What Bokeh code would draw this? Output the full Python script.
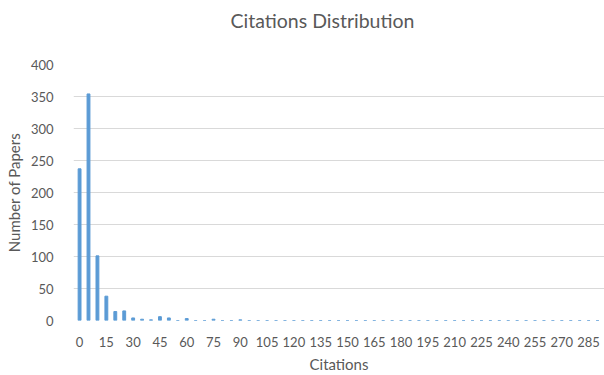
from bokeh.plotting import figure
from bokeh.models import FixedTicker, Range1d, Title
from bokeh.embed import file_html
from bokeh.resources import INLINE

# Citation counts (bins of 5) and number of papers in each bin
citations = list(range(0, 295, 5))
papers = [237, 354, 101, 38, 14, 15, 4, 2, 1, 6, 4, 0, 3, 0, 0, 2, 0, 0, 1] + [0] * 40
x_ticks = list(range(0, 290, 15))
y_ticks = list(range(0, 450, 50))

FONT = "Lato"
TEXT = "#595959"
GRID = "#d9d9d9"
BAR = "#5B9BD5"

p = figure(width=604, height=375, output_backend="svg", toolbar_location=None,
           x_range=Range1d(-3.4, 293.9), y_range=Range1d(0, 400),
           min_border_left=73, min_border_right=0, min_border_top=64, min_border_bottom=54)
p.outline_line_color = None
p.background_fill_color = "white"
p.border_fill_color = "white"

p.vbar(x=citations, top=papers, width=1.6, color=BAR)

# chart title (outermost), with a blank spacer between it and the plot area
p.title.text = "Citations Distribution"
p.title.align = "left"
p.title.offset = 157
p.title.text_font = FONT
p.title.text_font_size = "19.5px"
p.title.text_font_style = "normal"
p.title.text_color = TEXT
p.title.standoff = 4
spacer = Title(text=" ", text_font=FONT, text_font_size="14px", standoff=12)
p.add_layout(spacer, "above")

p.xaxis.ticker = FixedTicker(ticks=x_ticks)
p.yaxis.ticker = FixedTicker(ticks=y_ticks)
p.xgrid.grid_line_color = None
p.ygrid.grid_line_color = GRID
p.ygrid.grid_line_width = 1

for ax in (p.xaxis, p.yaxis):
    ax.axis_line_color = None
    ax.major_tick_line_color = None
    ax.minor_tick_line_color = None
    ax.major_label_text_font = FONT
    ax.major_label_text_font_size = "13px"
    ax.major_label_text_color = TEXT
    ax.axis_label_text_font = FONT
    ax.axis_label_text_font_size = "15px"
    ax.axis_label_text_font_style = "normal"
    ax.axis_label_text_color = TEXT

p.xaxis.axis_label = "Citations"
p.yaxis.axis_label = "Number of Papers"
p.xaxis.major_label_standoff = 10
p.yaxis.major_label_standoff = 14
p.xaxis.axis_label_standoff = 5
p.yaxis.axis_label_standoff = 5

open("out.html", "w").write(file_html(p, INLINE))
